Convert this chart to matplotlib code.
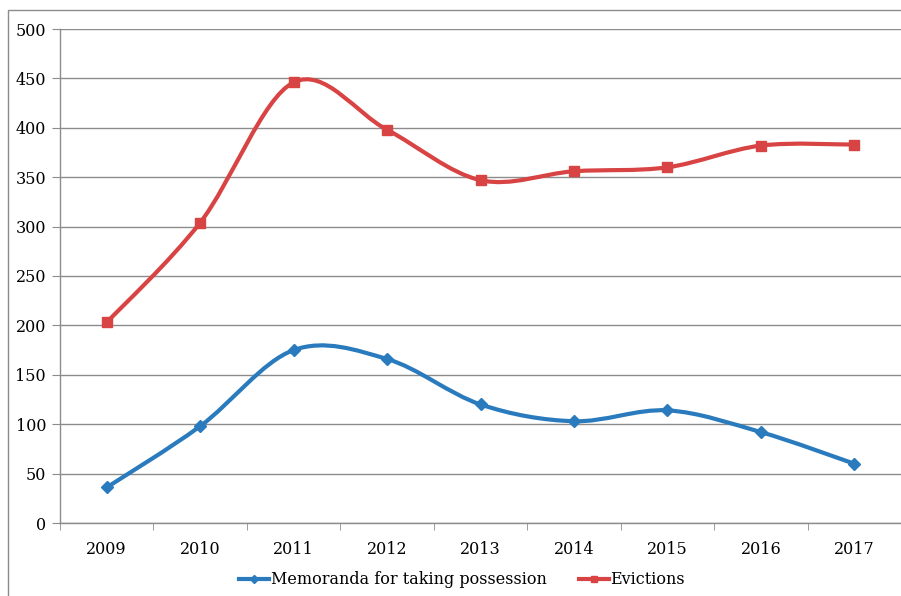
import numpy as np
import matplotlib.pyplot as plt
from matplotlib.path import Path
from matplotlib.patches import PathPatch, Rectangle
from matplotlib.lines import Line2D

years = ["2009", "2010", "2011", "2012", "2013", "2014", "2015", "2016", "2017"]
memoranda = [36, 98, 175, 166, 120, 103, 114, 92, 60]
evictions = [203, 304, 446, 398, 347, 356, 360, 382, 383]

blue = "#2a7bbd"
red = "#d84343"
grid_col = "#8c8c8c"

plt.rcParams["font.family"] = ["DejaVu Serif"]


def smooth_path(xs, ys, t=1 / 6):
    # Catmull-Rom style bezier segments, like spreadsheet "smoothed line"
    xs = np.asarray(xs, float)
    ys = np.asarray(ys, float)
    n = len(xs)
    verts = [(xs[0], ys[0])]
    codes = [Path.MOVETO]
    for i in range(n - 1):
        p0 = i - 1 if i > 0 else i
        p3 = i + 2 if i + 2 < n else i + 1
        c1 = (xs[i] + (xs[i + 1] - xs[p0]) * t, ys[i] + (ys[i + 1] - ys[p0]) * t)
        c2 = (xs[i + 1] - (xs[p3] - xs[i]) * t, ys[i + 1] - (ys[p3] - ys[i]) * t)
        verts += [c1, c2, (xs[i + 1], ys[i + 1])]
        codes += [Path.CURVE4] * 3
    return Path(verts, codes)


fig = plt.figure(figsize=(9.01, 5.96), dpi=100)
ax = fig.add_axes([60 / 901, 73 / 596, 841 / 901, 494 / 596])

x = np.arange(len(years))
for vals, col, mk, ms in [(memoranda, blue, "D", 6.5), (evictions, red, "s", 7.5)]:
    ax.add_patch(PathPatch(smooth_path(x, vals), fill=False, edgecolor=col,
                           lw=3.0, capstyle="round", joinstyle="round", zorder=3))
    ax.plot(x, vals, linestyle="none", marker=mk, ms=ms, color=col, zorder=4)

ax.set_xlim(-0.5, len(years) - 0.5)
ax.set_ylim(0, 500)
ax.set_yticks(np.arange(0, 501, 50))
ax.set_xticks(x)
ax.set_xticklabels(years)
ax.set_xticks(np.arange(-0.5, len(years)), minor=True)
ax.tick_params(axis="x", which="major", length=0, pad=13, labelsize=11.5)
ax.tick_params(axis="x", which="minor", length=5, color=grid_col, direction="out")
ax.tick_params(axis="y", length=6, color=grid_col, pad=4, labelsize=11.5)

ax.grid(axis="y", color=grid_col, lw=1.0)
ax.set_axisbelow(True)
for side in ["top", "right"]:
    ax.spines[side].set_visible(False)
for side in ["left", "bottom"]:
    ax.spines[side].set_color(grid_col)
    ax.spines[side].set_linewidth(1.0)

handles = [
    Line2D([], [], color=blue, lw=3.0, marker="D", ms=4.5),
    Line2D([], [], color=red, lw=3.0, marker="s", ms=5),
]
fig.legend(handles, ["Memoranda for taking possession", "Evictions"],
           loc="center", bbox_to_anchor=(462 / 901, 16 / 596), ncol=2,
           frameon=False, fontsize=11.5, handlelength=1.9, handletextpad=0.1,
           columnspacing=2.0)

# outer chart frame
fig.patches.append(Rectangle((8 / 901, -0.05), 1.2, (596 - 10) / 596 + 0.05,
                             transform=fig.transFigure, fill=False,
                             edgecolor=grid_col, lw=1.0))

fig.savefig("out.png", dpi=100)
